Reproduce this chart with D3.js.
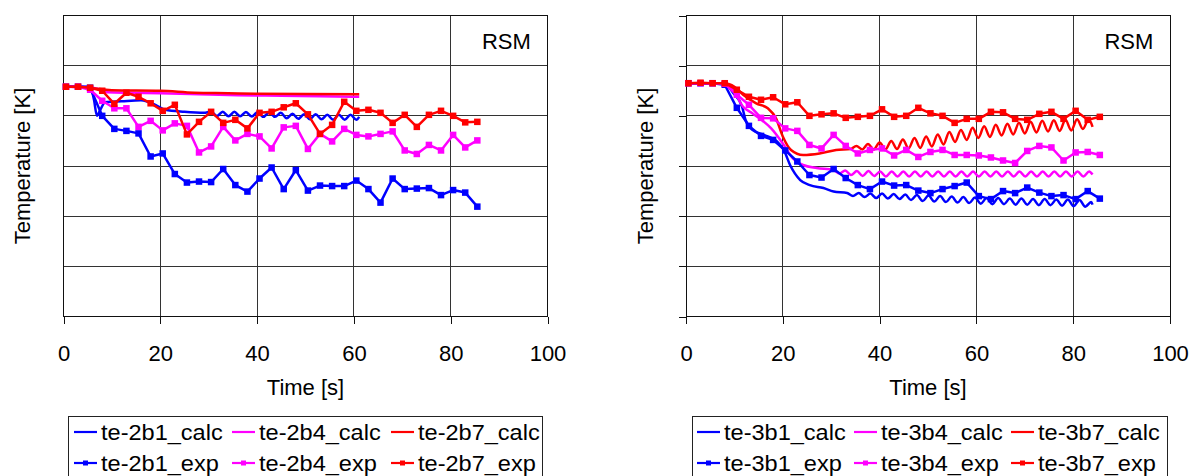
<!DOCTYPE html>
<html lang="en">
<head>
<meta charset="UTF-8">
<script src="https://d3js.org/d3.v7.min.js"></script>
<style>
  body { margin: 0; background: #fff; }
  svg text { font-family: "Liberation Sans", Arial, sans-serif; fill: #000; }
</style>
</head>
<body>
<div id="chart"></div>
<script>
// ---- data (y in K, labels hidden) ----
var xTicks = [0, 20, 40, 60, 80, 100];
var yTicks = [240, 250, 260, 270, 280, 290, 300];

var expTime = [0.5, 3, 5.5, 8, 10.5, 13, 15.5, 18, 20.5, 23, 25.5, 28, 30.5, 33, 35.5, 38, 40.5, 43,
  45.5, 48, 50.5, 53, 55.5, 58, 60.5, 63, 65.5, 68, 70.5, 73, 75.5, 78, 80.5, 83, 85.5];

// left panel (te-2b*)
var exp2b1 = [285.8, 285.8, 285.6, 280.0, 277.4, 277.0, 276.5, 271.9, 272.5, 268.4, 266.7, 266.9, 266.8, 269.4,
  266.2, 264.9, 267.5, 269.7, 265.4, 269.2, 265.1, 266.1, 266.0, 266.0, 267.1, 265.4, 262.7, 267.5, 265.4,
  265.5, 265.6, 264.2, 265.2, 264.7, 261.9];
var exp2b4 = [285.8, 285.8, 285.2, 283.0, 281.5, 281.5, 277.8, 279.0, 277.1, 278.5, 278.0, 272.7, 273.9, 277.8,
  275.1, 276.4, 275.9, 273.5, 277.7, 278.0, 273.4, 276.4, 274.9, 277.4, 276.2, 275.9, 276.4, 276.9, 273.1,
  272.4, 274.2, 273.1, 276.2, 273.7, 275.1];
var exp2b7 = [285.8, 285.8, 285.6, 285.0, 282.4, 284.6, 283.8, 282.5, 281.0, 282.2, 276.3, 278.8, 280.8, 278.6,
  279.2, 277.5, 280.6, 280.8, 281.7, 282.5, 280.3, 276.4, 278.2, 282.8, 281.0, 281.2, 280.6, 278.6, 280.2,
  277.8, 280.2, 281.0, 280.0, 278.7, 278.8];

var calc2b1 = [[0, 285.9], [5.5, 285.8], [6.3, 283.2], [6.9, 280.0], [7.6, 281.2], [8.6, 282.7], [12, 282.9],
  [16, 283.1], [19, 282.2], [21, 281.2], [25, 280.8], [29, 280.6], [30.5, 280.85], [31.7, 279.95], [32.9, 280.8],
  [34.1, 279.9], [35.3, 280.8], [36.5, 279.9], [37.7, 280.75], [38.9, 279.85], [40.1, 280.7], [41.3, 279.8],
  [42.5, 280.7], [43.7, 279.8], [44.9, 280.6], [46.1, 279.5], [47.3, 280.4], [48.5, 279.4], [49.7, 280.3],
  [50.9, 279.3], [52.1, 280.3], [53.3, 279.3], [54.5, 280.2], [55.7, 279.2], [56.9, 280.2], [58.1, 279.2],
  [59.3, 280.2], [60.5, 279.2], [61.1, 279.8]];
var calc2b4 = [[0, 285.8], [5, 285.7], [7, 285.4], [9, 284.7], [14, 284.6], [20, 284.5], [28, 284.3],
  [36, 284.1], [45, 284.0], [53, 283.9], [61.1, 283.8]];
var calc2b7 = [[0, 285.9], [5, 285.6], [10, 285.1], [20, 285.0], [27, 284.6], [34, 284.5], [40, 284.4],
  [50, 284.35], [61.1, 284.3]];

// right panel (te-3b*)
var exp3b1 = [286.5, 286.5, 286.5, 286.2, 281.6, 278.0, 276.0, 275.2, 273.1, 270.9, 268.2, 267.7, 269.4, 267.6,
  266.2, 265.4, 266.9, 266.1, 266.2, 265.1, 264.6, 265.4, 266.0, 266.7, 264.0, 263.4, 265.0, 264.6, 265.7,
  264.7, 264.0, 264.2, 263.4, 265.0, 263.5];
var exp3b4 = [286.5, 286.5, 286.5, 286.4, 284.2, 282.2, 279.6, 279.5, 277.5, 277.0, 274.2, 273.5, 276.2, 274.0,
  272.5, 273.2, 273.5, 272.1, 273.2, 271.8, 272.8, 273.2, 272.2, 272.2, 272.1, 271.7, 271.1, 270.6, 273.0,
  274.0, 273.7, 271.1, 272.7, 272.8, 272.2];
var exp3b7 = [286.5, 286.6, 286.5, 286.5, 285.2, 283.8, 283.2, 283.7, 282.3, 282.7, 280.0, 280.3, 280.5, 279.6,
  279.8, 280.0, 281.3, 279.8, 280.0, 281.6, 280.5, 280.0, 278.6, 279.4, 279.4, 280.8, 280.7, 279.4, 279.2,
  280.4, 280.8, 279.4, 281.0, 279.2, 279.8];

var calc3b1 = [[0, 286.5], [8, 286.4], [9.8, 284.5], [11.6, 281.8], [12.3, 279.2], [13.7, 277.2], [16.1, 276.2],
  [18.8, 274.9], [20.2, 273.2], [21.5, 270.2], [23.6, 267.2], [25.6, 266.2], [28.4, 265.6], [30.5, 264.9],
  [33.3, 264.6], [34.5, 264.0], [35.7, 264.6], [36.9, 263.8], [38.1, 264.5], [39.3, 263.6], [40.5, 264.5],
  [41.7, 263.5], [42.9, 264.4], [44.1, 263.4], [45.3, 264.3], [46.5, 263.2], [47.7, 264.2], [48.9, 263.0],
  [50.1, 264.1], [51.3, 262.9], [52.5, 264.0], [53.7, 262.8], [54.9, 263.9], [56.1, 262.7], [57.3, 263.8],
  [58.5, 262.6], [59.7, 263.7], [60.9, 262.5], [62.1, 263.6], [63.3, 262.4], [64.5, 263.6], [65.7, 262.4],
  [66.9, 263.5], [68.1, 262.3], [69.3, 263.5], [70.5, 262.3], [71.7, 263.4], [72.9, 262.2], [74.1, 263.4],
  [75.3, 262.2], [76.5, 263.3], [77.7, 262.1], [78.9, 263.3], [80.1, 262.0], [81.3, 263.2], [82.5, 261.9],
  [83.7, 262.8], [84.0, 262.3]];
var calc3b4 = [[0, 286.5], [8, 286.4], [9.5, 285.6], [11.8, 281.8], [13.7, 280.5], [15.6, 279.2], [17.6, 277.5],
  [20, 274.5], [22, 271.6], [24.2, 270.2], [27, 269.6], [30.5, 269.2], [31.7, 268.5], [32.9, 269.1], [34.1, 268.2],
  [35.3, 269.0], [36.5, 268.0], [37.7, 269.0], [38.9, 268.0], [40.1, 268.9], [41.3, 267.9], [42.5, 268.9],
  [43.7, 267.9], [44.9, 268.9], [46.1, 267.9], [47.3, 268.9], [48.5, 267.9], [49.7, 268.9], [50.9, 267.9],
  [52.1, 268.9], [53.3, 267.9], [54.5, 268.9], [55.7, 267.9], [56.9, 268.9], [58.1, 267.9], [59.3, 268.9],
  [60.5, 267.9], [61.7, 268.9], [62.9, 267.9], [64.1, 268.9], [65.3, 267.9], [66.5, 268.9], [67.7, 267.9],
  [68.9, 268.9], [70.1, 267.9], [71.3, 268.9], [72.5, 267.9], [73.7, 268.9], [74.9, 267.9], [76.1, 268.9],
  [77.3, 267.9], [78.5, 268.9], [79.7, 267.9], [80.9, 268.9], [82.1, 267.9], [83.3, 268.9], [84.0, 268.3]];
var calc3b7 = [[0, 286.5], [8, 286.5], [10, 285.8], [11.8, 284.2], [14.5, 282.5], [16.9, 281.5], [18.6, 279.5],
  [20, 275.9], [21.7, 273.2], [24.2, 272.2], [27.6, 272.5], [31, 273.2], [34.0, 273.4], [35.2, 274.0],
  [36.4, 273.3], [37.6, 274.4], [38.8, 273.3], [40.0, 274.7], [41.2, 273.3], [42.4, 275.0], [43.6, 273.4],
  [44.8, 275.3], [46.0, 273.5], [47.2, 275.6], [48.4, 273.6], [49.6, 275.9], [50.8, 273.9], [52.0, 276.3],
  [53.2, 274.3], [54.4, 276.8], [55.6, 274.8], [56.8, 277.2], [58.0, 275.2], [59.2, 277.6], [60.4, 275.6],
  [61.6, 277.9], [62.8, 275.8], [64.0, 278.2], [65.2, 276.1], [66.4, 278.4], [67.6, 276.3], [68.8, 278.6],
  [70.0, 276.5], [71.2, 278.8], [72.4, 276.7], [73.6, 279.0], [74.8, 276.9], [76.0, 279.1], [77.2, 277.0],
  [78.4, 279.2], [79.6, 277.1], [80.8, 279.3], [82.0, 277.4], [83.2, 279.3], [84.0, 277.8]];

var colors = ["#0000ff", "#ff00ff", "#ff0000"];

// ---- drawing ----
var svg = d3.select("#chart").append("svg")
  .attr("width", 1190).attr("height", 476);
svg.append("rect").attr("width", 1190).attr("height", 476).attr("fill", "#fff");

function drawPanel(p) {
  var x = d3.scaleLinear().domain([0, 100]).range([p.left, p.right]);
  var y = d3.scaleLinear().domain([240, 300]).range([316.5, 15.5]);
  var g = svg.append("g");

  // grid
  g.append("g").selectAll("line").data(xTicks.slice(1, -1)).enter().append("line")
    .attr("x1", d => x(d)).attr("x2", d => x(d))
    .attr("y1", y(300)).attr("y2", y(240))
    .attr("stroke", "#333").attr("shape-rendering", "crispEdges");
  g.append("g").selectAll("line").data(yTicks.slice(1, -1)).enter().append("line")
    .attr("x1", x(0)).attr("x2", x(100))
    .attr("y1", d => y(d)).attr("y2", d => y(d))
    .attr("stroke", "#333").attr("shape-rendering", "crispEdges");
  g.append("rect")
    .attr("x", x(0)).attr("y", y(300))
    .attr("width", x(100) - x(0)).attr("height", y(240) - y(300))
    .attr("fill", "none").attr("stroke", "#111").attr("shape-rendering", "crispEdges");

  // axes
  var xAxis = g.append("g").attr("transform", "translate(0," + y(240) + ")")
    .call(d3.axisBottom(x).tickValues(xTicks).tickSize(7).tickPadding(22));
  xAxis.select(".domain").remove();
  xAxis.selectAll("line").attr("stroke", "#111").attr("shape-rendering", "crispEdges");
  xAxis.selectAll("text").attr("font-size", "22px").style("font-family", "Liberation Sans, Arial, sans-serif");

  if (p.yTicks) {
    var yAxis = g.append("g").attr("transform", "translate(" + x(0) + ",0)")
      .call(d3.axisLeft(y).tickValues(yTicks).tickSize(7).tickFormat(""));
    yAxis.select(".domain").remove();
    yAxis.selectAll("line").attr("stroke", "#111").attr("shape-rendering", "crispEdges");
  }

  // labels
  g.append("text").attr("x", (x(0) + x(100)) / 2).attr("y", 395)
    .attr("text-anchor", "middle").attr("font-size", "22px").text("Time [s]");
  g.append("text").attr("transform", "translate(" + p.yLabelX + "," + y(270) + ") rotate(-90)")
    .attr("text-anchor", "middle").attr("dy", "0.35em").attr("font-size", "22px").text("Temperature [K]");
  g.append("text").attr("x", x(91.5)).attr("y", 49)
    .attr("text-anchor", "middle").attr("font-size", "22px").text("RSM");

  // calc lines
  var calcLine = d3.line().x(d => x(d[0])).y(d => y(d[1])).curve(d3.curveMonotoneX);
  p.calc.forEach(function (s, i) {
    g.append("path").datum(s).attr("d", calcLine)
      .attr("fill", "none").attr("stroke", colors[i]).attr("stroke-width", 2.5)
      .attr("stroke-linejoin", "round");
  });

  // exp lines with square markers
  var expLine = d3.line().x(d => x(d[0])).y(d => y(d[1]));
  p.exp.forEach(function (vals, i) {
    var pts = vals.map((v, k) => [expTime[k], v]);
    g.append("path").datum(pts).attr("d", expLine)
      .attr("fill", "none").attr("stroke", colors[i]).attr("stroke-width", 2.5)
      .attr("stroke-linejoin", "round");
    g.append("g").selectAll("rect").data(pts).enter().append("rect")
      .attr("x", d => x(d[0]) - 3.25).attr("y", d => y(d[1]) - 3.25)
      .attr("width", 6.5).attr("height", 6.5).attr("fill", colors[i]);
  });

  // legend
  var lg = g.append("g");
  lg.append("rect").attr("x", p.legend.x).attr("y", 416)
    .attr("width", p.legend.w).attr("height", 80)
    .attr("fill", "#fff").attr("stroke", "#222").attr("shape-rendering", "crispEdges");
  p.names.forEach(function (name, k) {
    var col = k % 3, row = Math.floor(k / 3);
    var lx = p.legend.cols[col], ly = row === 0 ? 432 : 463;
    lg.append("line").attr("x1", lx).attr("x2", lx + 23).attr("y1", ly).attr("y2", ly)
      .attr("stroke", colors[col]).attr("stroke-width", 2.2);
    if (row === 1) {
      lg.append("rect").attr("x", lx + 9).attr("y", ly - 2.5).attr("width", 5).attr("height", 5)
        .attr("fill", colors[col]);
    }
    var t = lg.append("text").attr("x", lx + 27).attr("y", ly).attr("dy", "0.35em")
      .attr("font-size", "22px").text(name);
    // the reference legend text is drawn a little wider than the font's own width
    var w = t.node().getComputedTextLength();
    t.attr("textLength", w * 1.07).attr("lengthAdjust", "spacingAndGlyphs");
  });
}

drawPanel({
  left: 63.5, right: 547.5, yTicks: false, yLabelX: 22,
  calc: [calc2b1, calc2b4, calc2b7],
  exp: [exp2b1, exp2b4, exp2b7],
  names: ["te-2b1_calc", "te-2b4_calc", "te-2b7_calc", "te-2b1_exp", "te-2b4_exp", "te-2b7_exp"],
  legend: { x: 68, w: 474, cols: [74, 232, 391] }
});
drawPanel({
  left: 686, right: 1170, yTicks: true, yLabelX: 645,
  calc: [calc3b1, calc3b4, calc3b7],
  exp: [exp3b1, exp3b4, exp3b7],
  names: ["te-3b1_calc", "te-3b4_calc", "te-3b7_calc", "te-3b1_exp", "te-3b4_exp", "te-3b7_exp"],
  legend: { x: 692, w: 475, cols: [697, 854, 1011] }
});
</script>
</body>
</html>
